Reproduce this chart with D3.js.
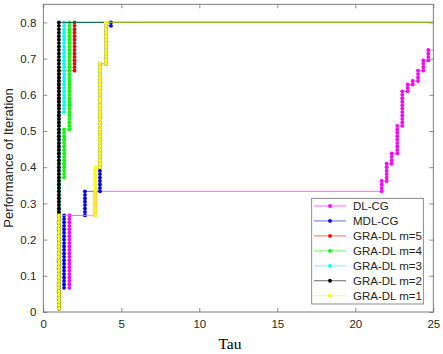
<!DOCTYPE html>
<html><head><meta charset="utf-8">
<script src="https://cdn.jsdelivr.net/npm/d3@7"></script>
<style>body{margin:0;background:#fff}svg{display:block}text{font-family:"Liberation Sans",Arial,sans-serif}</style>
</head><body><svg id="c" width="443" height="354"></svg>
<script>
// number of test problems
const nProblems = 105;
const seriesNames = ["DL-CG","MDL-CG","GRA-DL m=5","GRA-DL m=4","GRA-DL m=3","GRA-DL m=2","GRA-DL m=1"];
const seriesColors = ["#ff00ff","#0000ff","#ff0000","#00ff00","#00ffff","#000000","#ffff00"];
// first problem count of each profile
const startCounts = [7, 7, 1, 1, 1, 1, 1];
// tau values at which each profile rises, and cumulative problem count reached there
const tauDL = [1.67, 3.33, 21.69, 22.01, 22.33, 22.69, 23.01, 23.36, 23.68, 24.02, 24.36, 24.68];
const cntDL = [28, 35, 38, 43, 46, 54, 64, 66, 67, 70, 73, 76];
const tauMDL = [1.33, 2.67, 3.63, 4.02, 4.34];
const cntMDL = [28, 35, 72, 83, 84];
const tauM5 = [1.0, 2.0];
const cntM5 = [70, 84];
const tauM4 = [1.0, 1.33, 1.67];
const cntM4 = [39, 53, 84];
const tauM3 = [1.0, 1.33];
const cntM3 = [58, 84];
const tauM2 = [1.0];
const cntM2 = [84];
const tauM1 = [1.0, 3.33, 3.63, 4.02];
const cntM1 = [28, 42, 72, 84];
const xTicks = [0, 5, 10, 15, 20, 25];
const yTicks = [0, 0.1, 0.2, 0.3, 0.4, 0.5, 0.6, 0.7, 0.8];

const taus = [tauDL, tauMDL, tauM5, tauM4, tauM3, tauM2, tauM1];
const cnts = [cntDL, cntMDL, cntM5, cntM4, cntM3, cntM2, cntM1];

const L = 43.3, R = 433.3, T = 4.3, B = 312;
const x = d3.scaleLinear().domain([0, 25]).range([L, R]);
const y = d3.scaleLinear().domain([0, 0.85]).range([B, T]);
const svg = d3.select("#c");
const axCol = "#707070", txtCol = "#262626";

// axes
const gx = svg.append("g").attr("transform", `translate(0,${B})`)
  .call(d3.axisBottom(x).tickValues(xTicks).tickSize(-4).tickPadding(8).tickFormat(d3.format("d")));
const gx2 = svg.append("g").attr("transform", `translate(0,${T})`)
  .call(d3.axisTop(x).tickValues(xTicks).tickSize(-4).tickFormat(""));
const gy = svg.append("g").attr("transform", `translate(${L},0)`)
  .call(d3.axisLeft(y).tickValues(yTicks).tickSize(-4).tickPadding(7).tickFormat(d => d === 0 ? "0" : d3.format(".1f")(d)));
const gy2 = svg.append("g").attr("transform", `translate(${R},0)`)
  .call(d3.axisRight(y).tickValues(yTicks).tickSize(-4).tickFormat(""));
[gx, gx2, gy, gy2].forEach(g => {
  g.select(".domain").remove();
  g.selectAll("line").attr("stroke", axCol).attr("stroke-width", 0.8);
  g.selectAll("text").attr("fill", txtCol).style("font-size", "11.5px");
});
svg.append("rect").attr("x", L).attr("y", T).attr("width", R - L).attr("height", B - T)
  .attr("fill", "none").attr("stroke", axCol).attr("stroke-width", 0.9);

svg.append("defs").append("clipPath").attr("id", "clip")
  .append("rect").attr("x", L).attr("y", T).attr("width", R - L).attr("height", B - T);
const plot = svg.append("g").attr("clip-path", "url(#clip)");

const line = d3.line().x(d => x(d[0])).y(d => y(d[1] / nProblems));

seriesNames.forEach((name, i) => {
  const pts = [];
  let c = startCounts[i];
  taus[i].forEach((t, j) => {
    const top = cnts[i][j];
    for (let k = c; k <= top; k++) pts.push([t, k]);
    c = top;
  });
  const endPt = [x.domain()[1], c];
  const g = plot.append("g");
  g.append("path").datum(pts.concat([endPt])).attr("d", line)
    .attr("fill", "none").attr("stroke", seriesColors[i]).attr("stroke-width", 0.6);
  g.selectAll("circle").data(pts).join("circle")
    .attr("cx", d => x(d[0])).attr("cy", d => y(d[1] / nProblems)).attr("r", 1.9)
    .attr("fill", seriesColors[i]);
});

// legend
const lg = svg.append("g");
lg.append("rect").attr("x", 311.7).attr("y", 198.3).attr("width", 111.6).attr("height", 105.7)
  .attr("fill", "#fff").attr("stroke", axCol).attr("stroke-width", 0.8);
seriesNames.forEach((name, i) => {
  const yy = 206 + i * 14.95;
  lg.append("line").attr("x1", 314).attr("x2", 346).attr("y1", yy).attr("y2", yy)
    .attr("stroke", seriesColors[i]).attr("stroke-width", 0.6);
  lg.append("circle").attr("cx", 330).attr("cy", yy).attr("r", 1.9).attr("fill", seriesColors[i]);
  lg.append("text").attr("x", 353).attr("y", yy).attr("dy", "0.35em").attr("fill", txtCol)
    .style("font-size", "11.5px").text(name);
});

// axis titles
svg.append("text").attr("x", 230).attr("y", 349).attr("text-anchor", "middle")
  .style("font-family", "'Liberation Serif','Times New Roman',serif").style("font-size", "15.5px")
  .attr("fill", "#000").text("Tau");
svg.append("text").attr("transform", "translate(13,158) rotate(-90)").attr("text-anchor", "middle")
  .style("font-size", "13px").attr("fill", txtCol).text("Performance of Iteration");
</script></body></html>
